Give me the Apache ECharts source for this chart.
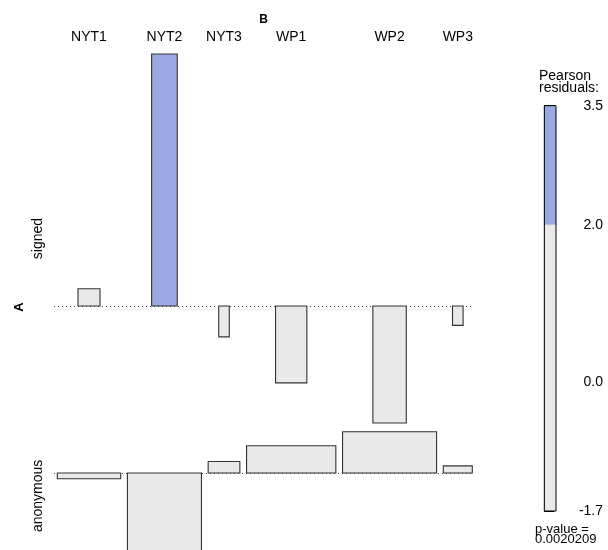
<!DOCTYPE html>
<html>
<head>
<meta charset="utf-8">
<script src="https://cdn.jsdelivr.net/npm/echarts@6/dist/echarts.min.js"></script>
<style>html,body{margin:0;padding:0;background:#fff}#c{width:608px;height:550px}</style>
</head>
<body>
<div id="c"></div>
<script>
// ---- data ----
const categories = ['NYT1', 'NYT2', 'NYT3', 'WP1', 'WP2', 'WP3'];
const rowNames = ['signed', 'anonymous'];
const expectedSigned = [4.84, 6.55, 1.12, 9.80, 11.16, 1.12];
const expectedAnon = [40.2, 54.8, 10.05, 79.7, 88.4, 8.41];
const residSigned = [0.24, 3.51, -0.43, -1.07, -1.63, -0.27];
const residAnon = [-0.08, -1.21, 0.16, 0.38, 0.575, 0.10];
const legendTickValues = [3.51, 2, 0, -1.63];
const legendTickLabels = ['3.5', '2.0', '0.0', '-1.7'];
const shadingBreak = 2;
const pValue = '0.0020209';

// ---- styling / layout ----
const FONT = "'Liberation Sans', Arial, Helvetica, sans-serif";
const BLUE = '#9aa9e3';
const GRAY = '#e9e9e9';
const BORDER = '#333333';
const fillFor = r => (r >= shadingBreak ? BLUE : GRAY);

const rows = [expectedSigned, expectedAnon];
const resids = [residSigned, residAnon];
const gapU = 0.67;
const slot = categories.map((c, j) => Math.max(Math.sqrt(expectedSigned[j]), Math.sqrt(expectedAnon[j])));
const centers = [];
let acc = 0;
slot.forEach((s, j) => { centers.push(acc + s / 2); acc += s + (j < slot.length - 1 ? gapU : 0); });
const xMin = -0.33, xMax = acc + 0.07;

const gridLeft = 54, gridWidth = 419, yScale = 71.8, rowGap = 8.7, topY = 54;
const rMax = resids.map(a => Math.max(...a, 0));
const rMin = resids.map(a => Math.min(...a, 0));
const h1 = (rMax[0] - rMin[0]) * yScale;
const top2 = topY + h1 + rowGap;
const h2 = (rMax[1] - rMin[1]) * yScale;

function barSeries(i) {
  const data = categories.map((c, j) => [centers[j], resids[i][j], Math.sqrt(rows[i][j])]);
  return {
    type: 'custom',
    xAxisIndex: i, yAxisIndex: i,
    clip: false,
    encode: { x: 0, y: 1 },
    data: data,
    renderItem: function (params, api) {
      const cx = api.value(0), r = api.value(1), w = api.value(2);
      const p1 = api.coord([cx - w / 2, r]);
      const p2 = api.coord([cx + w / 2, 0]);
      return {
        type: 'rect',
        shape: { x: Math.min(p1[0], p2[0]), y: Math.min(p1[1], p2[1]), width: Math.abs(p2[0] - p1[0]), height: Math.abs(p2[1] - p1[1]) },
        style: { fill: fillFor(r), stroke: BORDER, lineWidth: 1.1 }
      };
    },
    markLine: {
      silent: true, symbol: ['none', 'none'], label: { show: false },
      lineStyle: { type: [1, 3], color: '#444', width: 1 },
      z: 1,
      data: [{ yAxis: 0 }]
    },
    z: 2
  };
}

const chart = echarts.init(document.getElementById('c'), null, { renderer: 'canvas' });
const option = {
  animation: false,
  backgroundColor: '#fff',
  textStyle: { fontFamily: FONT },
  grid: [
    { left: gridLeft, width: gridWidth, top: topY, height: h1, outerBoundsMode: 'none', containLabel: false },
    { left: gridLeft, width: gridWidth, top: top2, height: h2, outerBoundsMode: 'none', containLabel: false },
    { left: 544.3, width: 11.7, top: 105.7, height: 405.3, outerBoundsMode: 'none', containLabel: false }
  ],
  xAxis: [
    {
      gridIndex: 0, type: 'value', min: xMin, max: xMax, position: 'top',
      axisLine: { show: false }, axisTick: { show: false }, splitLine: { show: false },
      axisLabel: {
        show: true, margin: 10, fontFamily: FONT, fontSize: 14, color: '#000',
        customValues: centers,
        formatter: function (v) {
          let best = 0;
          centers.forEach((c, j) => { if (Math.abs(c - v) < Math.abs(centers[best] - v)) best = j; });
          return categories[best];
        }
      }
    },
    { gridIndex: 1, type: 'value', min: xMin, max: xMax, show: false },
    { gridIndex: 2, type: 'value', min: 0, max: 1, show: false }
  ],
  yAxis: [
    {
      gridIndex: 0, type: 'value', min: rMin[0], max: rMax[0],
      name: rowNames[0], nameLocation: 'middle', nameRotate: 90, nameGap: 9, nameMoveOverlap: false,
      nameTextStyle: { fontFamily: FONT, fontSize: 14, color: '#000' },
      axisLine: { show: false }, axisTick: { show: false }, axisLabel: { show: false }, splitLine: { show: false }
    },
    {
      gridIndex: 1, type: 'value', min: rMin[1], max: rMax[1],
      name: rowNames[1], nameLocation: 'middle', nameRotate: 90, nameGap: 9, nameMoveOverlap: false,
      nameTextStyle: { fontFamily: FONT, fontSize: 14, color: '#000' },
      axisLine: { show: false }, axisTick: { show: false }, axisLabel: { show: false }, splitLine: { show: false }
    },
    {
      gridIndex: 2, type: 'value', min: Math.min(...legendTickValues), max: Math.max(...legendTickValues), position: 'right',
      axisLine: { show: true, lineStyle: { color: '#000', width: 1 } },
      axisTick: { show: true, length: 10, lineStyle: { color: '#000', width: 1 }, customValues: legendTickValues },
      axisLabel: {
        show: true, align: 'right', margin: 47, fontFamily: FONT, fontSize: 14, color: '#000',
        customValues: legendTickValues,
        formatter: function (v) {
          let best = 0;
          legendTickValues.forEach((c, j) => { if (Math.abs(c - v) < Math.abs(legendTickValues[best] - v)) best = j; });
          return legendTickLabels[best];
        }
      },
      splitLine: { show: false }
    }
  ],
  series: [
    barSeries(0),
    barSeries(1),
    {
      type: 'custom', xAxisIndex: 2, yAxisIndex: 2, clip: false,
      data: [[Math.min(...legendTickValues), shadingBreak], [shadingBreak, Math.max(...legendTickValues)]],
      encode: { y: [0, 1] },
      renderItem: function (params, api) {
        const lo = api.value(0), hi = api.value(1);
        const a = api.coord([0, hi]), b = api.coord([1, lo]);
        return {
          type: 'rect',
          shape: { x: a[0], y: a[1], width: b[0] - a[0], height: b[1] - a[1] },
          style: { fill: fillFor(lo), stroke: null }
        };
      }
    },
    {
      type: 'custom', xAxisIndex: 2, yAxisIndex: 2, clip: false,
      data: [[Math.min(...legendTickValues), Math.max(...legendTickValues)]],
      renderItem: function (params, api) {
        const lo = api.value(0), hi = api.value(1);
        const a = api.coord([0, hi]), b = api.coord([1, lo]);
        return {
          type: 'rect',
          shape: { x: a[0], y: a[1], width: b[0] - a[0], height: b[1] - a[1] },
          style: { fill: null, stroke: '#000', lineWidth: 1 }
        };
      },
      z: 3
    }
  ],
  graphic: [
    { type: 'text', x: gridLeft + gridWidth / 2, y: 20,
      style: { text: 'B', fontFamily: FONT, fontSize: 12, fontWeight: 'bold', fill: '#000', align: 'center', verticalAlign: 'middle' } },
    { type: 'text', x: 19, y: 307, rotation: Math.PI / 2,
      style: { text: 'A', fontFamily: FONT, fontSize: 13, fontWeight: 'bold', fill: '#000', align: 'center', verticalAlign: 'middle' } },
    { type: 'text', x: 539, y: 69.5,
      style: { text: 'Pearson\nresiduals:', fontFamily: FONT, fontSize: 14, lineHeight: 12.5, fill: '#000', align: 'left', verticalAlign: 'top' } },
    { type: 'text', x: 535, y: 524.5,
      style: { text: 'p-value =\n' + pValue, fontFamily: FONT, fontSize: 13, lineHeight: 10, fill: '#000', align: 'left', verticalAlign: 'top' } }
  ]
};
chart.setOption(option);
</script>
</body>
</html>
